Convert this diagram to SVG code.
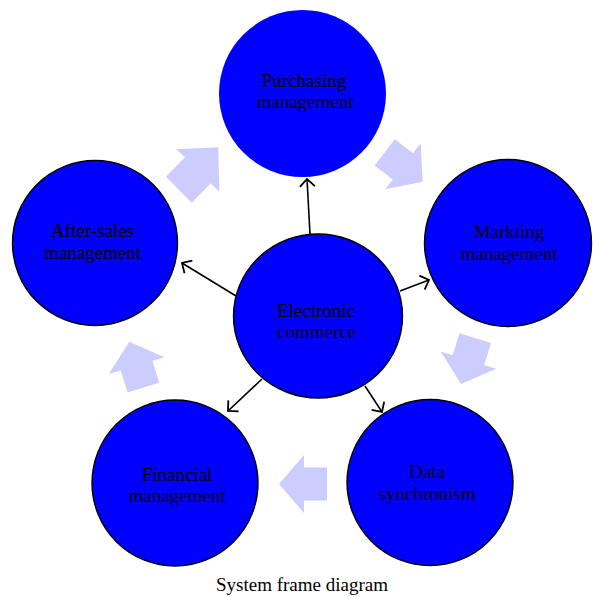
<svg xmlns="http://www.w3.org/2000/svg" xmlns:xlink="http://www.w3.org/1999/xlink" width="594" height="597" viewBox="0 0 594 597">
<style>
.node{fill:#0000ff;stroke:#000;stroke-width:1.4}
.nostroke{stroke:none}
.lbl{font-family:"Liberation Serif","Times New Roman",serif;font-size:19px;fill:#000;text-anchor:middle}
.blk{fill:#ccccff;stroke:none}
.conn{stroke:#000;stroke-width:1.6;fill:none}
</style>
<defs>
<marker id="open" markerUnits="userSpaceOnUse" markerWidth="14" markerHeight="18" viewBox="0 0 14 18" refX="12" refY="9" orient="auto">
<path d="M4.5,1.5 L12,9 L4.5,16.5" fill="none" stroke="#000" stroke-width="1.8"/>
</marker>
<path id="barrow" d="M0,0 L-25,-29 L-25,-16.5 L-48,-16.5 L-48,16.5 L-25,16.5 L-25,29 Z"/>
</defs>
<rect width="594" height="597" fill="#fff"/>
<g id="cycle-arrows">
<polygon class="blk" points="176,149.3 218.3,147.3 219.3,191.7 210.7,183.3 191.7,202.7 166,176.7 185,157.3"/>
<use xlink:href="#barrow" class="blk" transform="translate(422.7,181.7) rotate(37.7)"/>
<use xlink:href="#barrow" class="blk" transform="translate(461,384) rotate(107.2)"/>
<use xlink:href="#barrow" class="blk" transform="translate(279,484) rotate(180)"/>
<use xlink:href="#barrow" class="blk" transform="translate(129.3,341.7) rotate(-107)"/>
</g>
<g id="purchasing">
<circle class="node nostroke" cx="302.5" cy="93.5" r="83.5"/>
<text class="lbl" x="304" y="87">Purchasing</text>
<text class="lbl" x="305" y="108">management</text>
</g>
<g id="markting">
<circle class="node" cx="508" cy="243" r="83.5"/>
<text class="lbl" x="509" y="238">Markting</text>
<text class="lbl" x="509" y="260">management</text>
</g>
<g id="after-sales">
<circle class="node" cx="95" cy="243" r="82.5"/>
<text class="lbl" x="92.5" y="237">After-sales</text>
<text class="lbl" x="92.5" y="259">management</text>
</g>
<g id="financial">
<circle class="node" cx="175" cy="483" r="83"/>
<text class="lbl" x="177" y="481">Financial</text>
<text class="lbl" x="177" y="502">management</text>
</g>
<g id="data">
<circle class="node" cx="430" cy="482.5" r="83"/>
<text class="lbl" x="427" y="478">Data</text>
<text class="lbl" x="427" y="500">synchronism</text>
</g>
<g id="electronic">
<ellipse class="node" cx="318" cy="316" rx="84.5" ry="82"/>
<text class="lbl" x="316" y="317">Electronic</text>
<text class="lbl" x="316.5" y="338">commerce</text>
</g>
<g id="connectors">
<line class="conn" x1="310" y1="234" x2="307" y2="179" marker-end="url(#open)"/>
<line class="conn" x1="236" y1="296" x2="182" y2="263" marker-end="url(#open)"/>
<line class="conn" x1="400" y1="291" x2="429" y2="280" marker-end="url(#open)"/>
<line class="conn" x1="262" y1="379" x2="228" y2="411" marker-end="url(#open)"/>
<line class="conn" x1="365" y1="386" x2="382" y2="412" marker-end="url(#open)"/>
</g>
<text class="lbl" x="302" y="591">System frame diagram</text>
</svg>
